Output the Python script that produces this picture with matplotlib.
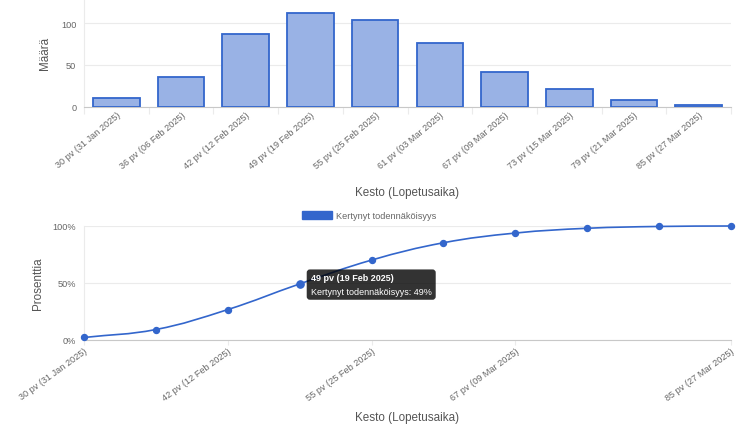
import numpy as np
import matplotlib
matplotlib.use("Agg")
import matplotlib.pyplot as plt
from matplotlib.patches import Patch
from matplotlib.path import Path
from matplotlib.patches import PathPatch

plt.rcParams['font.family'] = ['Liberation Sans', 'DejaVu Sans']

# data
labels = ["30 pv (31 Jan 2025)", "36 pv (06 Feb 2025)", "42 pv (12 Feb 2025)",
          "49 pv (19 Feb 2025)", "55 pv (25 Feb 2025)", "61 pv (03 Mar 2025)",
          "67 pv (09 Mar 2025)", "73 pv (15 Mar 2025)", "79 pv (21 Mar 2025)",
          "85 pv (27 Mar 2025)"]
counts = [11, 35, 87, 112, 104, 76, 42, 21, 8, 2]
cumulative = [2.2, 9.2, 26.7, 49.2, 70.1, 85.3, 93.8, 98.0, 99.6, 100.0]
line_ticks = [0, 2, 4, 6, 9]
hover_idx = 3
series_name = "Kertynyt todennäköisyys"

blue = '#3366cc'
bar_fill = '#99b2e5'
tick_col = '#666666'
title_col = '#555555'
grid_col = '#ebebeb'
axis_col = '#c8c8c8'

fig = plt.figure(figsize=(7.5, 4.35), dpi=100)
W, H = 750, 435

def px_axes(left, top, right, bottom):
    return fig.add_axes([left / W, 1 - bottom / H, (right - left) / W, (bottom - top) / H])

##top chart: counts per duration
ax1 = px_axes(84, 0, 731, 107.7)
x = np.arange(len(counts))
ax1.bar(x, counts, width=0.72, color=bar_fill, edgecolor=blue, linewidth=1.3, zorder=3)
ax1.set_xlim(-0.5, len(counts) - 0.5)
ax1.set_ylim(0, 129)
ax1.set_yticks([0, 50, 100])
ax1.set_xticks(x)
ax1.set_xticklabels(labels, rotation=40, ha='right', rotation_mode='anchor')
ax1.set_xticks(np.arange(len(counts) + 1) - 0.5, minor=True)
ax1.tick_params(axis='x', which='major', length=0, pad=2.5, labelsize=6.6, labelcolor=tick_col)
ax1.tick_params(axis='x', which='minor', length=5, color=grid_col, width=0.8)
ax1.tick_params(axis='y', length=0, pad=5.5, labelsize=6.6, labelcolor=tick_col)
ax1.grid(axis='y', color=grid_col, linewidth=0.8, zorder=0)
for s in ['top', 'right']:
    ax1.spines[s].set_visible(False)
ax1.spines['left'].set_color(grid_col)
ax1.spines['bottom'].set_color(axis_col)
ax1.set_ylabel("Määrä", fontsize=8.4, color=title_col)
ax1.yaxis.set_label_coords(-0.051, 0.5)
ax1.set_xlabel("Kesto (Lopetusaika)", fontsize=8.4, color=title_col)
ax1.xaxis.set_label_coords(0.499, -0.737)

##bottom chart: cumulative probability
ax2 = px_axes(84, 227, 731, 341)
ax2.set_xlim(0, len(cumulative) - 1)
ax2.set_ylim(0, 100)

# smooth line like chart.js (tension 0.4), control points computed in pixel space
pts = ax2.transData.transform(np.column_stack([np.arange(len(cumulative)), cumulative]))
t = 0.4
ctrl_prev, ctrl_next = [], []
for i in range(len(pts)):
    p0 = pts[max(i - 1, 0)]
    p1 = pts[i]
    p2 = pts[min(i + 1, len(pts) - 1)]
    d01 = np.hypot(*(p1 - p0))
    d12 = np.hypot(*(p2 - p1))
    s01 = d01 / (d01 + d12) if d01 + d12 > 0 else 0
    s12 = d12 / (d01 + d12) if d01 + d12 > 0 else 0
    ctrl_prev.append(p1 - t * s01 * (p2 - p0))
    ctrl_next.append(p1 + t * s12 * (p2 - p0))
verts = [pts[0]]
codes = [Path.MOVETO]
for i in range(1, len(pts)):
    verts += [ctrl_next[i - 1], ctrl_prev[i], pts[i]]
    codes += [Path.CURVE4] * 3
inv = ax2.transData.inverted()
verts = inv.transform(np.array(verts))
ax2.add_patch(PathPatch(Path(verts, codes), facecolor='none', edgecolor=blue,
                        linewidth=1.2, zorder=3, clip_on=False))
ax2.plot(np.arange(len(cumulative)), cumulative, linestyle='none', marker='o',
         markersize=4.3, color=blue, zorder=4, clip_on=False)
ax2.plot([hover_idx], [cumulative[hover_idx]], linestyle='none', marker='o',
         markersize=5.2, color=blue, zorder=4)

ax2.set_yticks([0, 50, 100])
ax2.set_yticklabels(["0%", "50%", "100%"])
ax2.set_xticks(line_ticks)
ax2.set_xticklabels([labels[i] for i in line_ticks], rotation=36, ha='right', rotation_mode='anchor')
ax2.tick_params(axis='x', length=3.6, color=grid_col, width=0.8, pad=0.5, labelsize=6.6, labelcolor=tick_col)
ax2.tick_params(axis='y', length=0, pad=5.5, labelsize=6.6, labelcolor=tick_col)
ax2.grid(axis='y', color=grid_col, linewidth=0.8, zorder=0)
for s in ['top', 'right']:
    ax2.spines[s].set_visible(False)
ax2.spines['left'].set_color(grid_col)
ax2.spines['bottom'].set_color(axis_col)
ax2.set_ylabel("Prosenttia", fontsize=8.4, color=title_col)
ax2.yaxis.set_label_coords(-0.0618, 0.5)
ax2.set_xlabel("Kesto (Lopetusaika)", fontsize=8.4, color=title_col)
ax2.xaxis.set_label_coords(0.499, -0.624)

leg = ax2.legend(handles=[Patch(facecolor=blue, edgecolor=blue, label=series_name)],
                 loc='lower center', bbox_to_anchor=(0.4405, 1.05), frameon=False,
                 fontsize=6.6, handlelength=3.3, handleheight=1.0, handletextpad=0.4,
                 borderpad=0, borderaxespad=0)
for txt in leg.get_texts():
    txt.set_color(tick_col)

# tooltip for the hovered point
hx, hy = hover_idx, cumulative[hover_idx]
ax2.annotate("\nKertynyt todennäköisyys: 49%", xy=(hx, hy), xytext=(8, 7.5),
             textcoords='offset points', ha='left', va='top', fontsize=6.5,
             color='white', linespacing=1.6, zorder=6,
             bbox=dict(boxstyle='round,pad=0.45,rounding_size=0.35', facecolor='black',
                       alpha=0.8, edgecolor='none'))
ax2.annotate("49 pv (19 Feb 2025)", xy=(hx, hy), xytext=(8, 7.5),
             textcoords='offset points', ha='left', va='top', fontsize=6.5,
             color='white', fontweight='bold', zorder=7)

fig.savefig("out.png", dpi=100)
